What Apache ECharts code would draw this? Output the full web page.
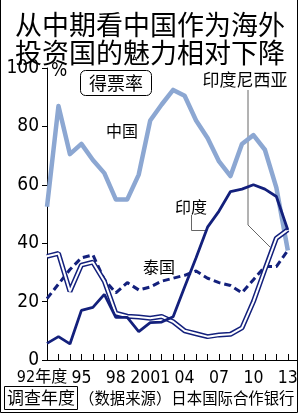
<!DOCTYPE html>
<html>
<head>
<meta charset="utf-8">
<script src="https://cdn.jsdelivr.net/npm/echarts@6/dist/echarts.min.js"></script>
<style>
  html, body { margin: 0; padding: 0; background: #fff; }
  #main { width: 300px; height: 413px; }
</style>
</head>
<body>
<div id="main"></div>
<script>
const years = [1992, 1993, 1994, 1995, 1996, 1997, 1998, 1999, 2000, 2001, 2002,
  2003, 2004, 2005, 2006, 2007, 2008, 2009, 2010, 2011, 2012, 2013];
const labelYears = [1992, 1995, 1998, 2001, 2004, 2007, 2010, 2013];
const labelText = ['92年度', '95', '98', '2001', '04', '07', '10', '13'];

const china = [52.5, 87, 70.5, 74, 68.5, 64, 55, 55, 63.5, 82, 87.5, 92.5, 90.5, 82, 76, 68, 63, 74, 77, 72, 59, 37.5];
const india = [5.7, 8, 5.5, 17, 18, 22.5, 14.6, 14.6, 9.7, 12.8, 13, 14.8, 25, 35, 45.5, 51, 57.7, 58.5, 60, 58.5, 56, 44.5];
const thailand = [21, 26, 31, 35, 36, 27.5, 23, 26.5, 24, 25, 27, 28, 29, 30.5, 28, 26.5, 25.5, 23, 27.5, 32, 32, 37.5];
const indonesia = [35.5, 36.5, 23.5, 32.5, 33.5, 27, 16, 15, 14.7, 14.3, 14.9, 13.1, 10, 9, 8, 8.6, 8.8, 11, 20, 31, 41.7, 44.6];

const NAVY = '#13207c';
const LIGHT = '#8ca7d2';
const NUM_FONT = "'DejaVu Sans Condensed', 'Noto Sans CJK SC', sans-serif";
const CJK_FONT = "'Noto Sans CJK SC', sans-serif";

const pairs = arr => years.map((y, i) => [y, arr[i]]);

const chart = echarts.init(document.getElementById('main'), null, {renderer: 'canvas'});

const graphics = [
  // frame
  {type: 'polyline', shape: {points: [[0.5, 0], [0.5, 412.5], [297.5, 412.5], [297.5, 0]]},
    style: {stroke: '#000', fill: null, lineWidth: 1}, silent: true},
  // unit
  {type: 'text', left: 51, top: 62, style: {text: '%', font: "19px " + NUM_FONT, fill: '#000'}},
  // 得票率 box
  {type: 'rect', shape: {x: 80.5, y: 70.5, width: 71, height: 25, r: 5},
    style: {fill: '#fff', stroke: '#000', lineWidth: 1}},
  {type: 'text', x: 116, y: 83, style: {text: '得票率', font: "18px " + CJK_FONT, fill: '#000', align: 'center', verticalAlign: 'middle'}},
  // series labels
  {type: 'text', x: 122, y: 131, style: {text: '中国', font: "16px " + CJK_FONT, fill: '#000', align: 'center', verticalAlign: 'middle'}},
  {type: 'text', x: 245, y: 80, style: {text: '印度尼西亚', font: "17px " + CJK_FONT, fill: '#000', align: 'center', verticalAlign: 'middle'}},
  {type: 'polyline', shape: {points: [[248, 90], [248, 225], [270, 247]]},
    style: {stroke: '#666', fill: null, lineWidth: 1}, z: 1},
  {type: 'text', x: 191, y: 207, style: {text: '印度', font: "16px " + CJK_FONT, fill: '#000', align: 'center', verticalAlign: 'middle'}},
  {type: 'polyline', shape: {points: [[191.5, 215], [191.5, 230.5], [205, 230.5]]},
    style: {stroke: '#666', fill: null, lineWidth: 1}, z: 1},
  {type: 'text', x: 159, y: 267, style: {text: '泰国', font: "16px " + CJK_FONT, fill: '#000', align: 'center', verticalAlign: 'middle'}},
  // footer
  {type: 'rect', shape: {x: 4.5, y: 386.5, width: 73, height: 23},
    style: {fill: null, stroke: '#000', lineWidth: 1}},
  {type: 'text', x: 41, y: 398, style: {text: '调查年度', font: "17px " + CJK_FONT, fill: '#000', align: 'center', verticalAlign: 'middle'}},
  {type: 'text', x: 79, y: 398, style: {text: '（数据来源）日本国际合作银行', font: "15.4px " + CJK_FONT, fill: '#000', align: 'left', verticalAlign: 'middle'}}
];

chart.setOption({
  animation: false,
  backgroundColor: '#fff',
  title: {
    text: '从中期看中国作为海外\n投资国的魅力相对下降',
    left: 'center',
    top: 6,
    textStyle: {fontFamily: CJK_FONT, fontSize: 27, fontWeight: 'normal', lineHeight: 27.5, color: '#000'}
  },
  grid: {left: 47, right: 3, top: 68, bottom: 53},
  xAxis: {
    type: 'value',
    min: 1992,
    max: 2013.8,
    splitLine: {show: false},
    axisLine: {lineStyle: {color: '#000', width: 1}},
    axisTick: {show: true, inside: true, length: 6, customValues: years, lineStyle: {color: '#000'}},
    axisLabel: {show: false}
  },
  yAxis: {
    type: 'value',
    min: 0,
    max: 100,
    interval: 20,
    splitLine: {show: false},
    axisLine: {show: true, lineStyle: {color: '#000', width: 1}},
    axisTick: {show: true, length: 5, lineStyle: {color: '#000'}},
    axisLabel: {color: '#000', fontFamily: NUM_FONT, fontSize: 19, margin: 8}
  },
  series: [
    {
      name: '中国', type: 'line', data: pairs(china), symbol: 'none', z: 2,
      lineStyle: {color: LIGHT, width: 4.5, join: 'round'}
    },
    {
      name: '泰国', type: 'line', data: pairs(thailand), symbol: 'none', z: 3,
      lineStyle: {color: NAVY, width: 3, type: [7, 4]}
    },
    {
      name: '印度尼西亚', type: 'line', data: pairs(indonesia), symbol: 'none', z: 4,
      lineStyle: {color: NAVY, width: 5}
    },
    {
      name: '印度尼西亚内', type: 'line', data: pairs(indonesia), symbol: 'none', z: 5,
      lineStyle: {color: '#fff', width: 2}
    },
    {
      name: '印度', type: 'line', data: pairs(india), symbol: 'none', z: 6,
      lineStyle: {color: NAVY, width: 2.8}
    }
  ]
});

// x labels placed from the axis scale
labelYears.forEach((yr, i) => {
  const px = chart.convertToPixel({xAxisIndex: 0}, yr);
  graphics.push({
    type: 'text', x: px + (i === 0 ? -5 : 0), y: 378,
    style: {text: labelText[i], font: (i === 0 ? "16px " : "17.5px ") + NUM_FONT, fill: '#000', align: 'center', verticalAlign: 'middle'}
  });
});
chart.setOption({graphic: graphics});
</script>
</body>
</html>
